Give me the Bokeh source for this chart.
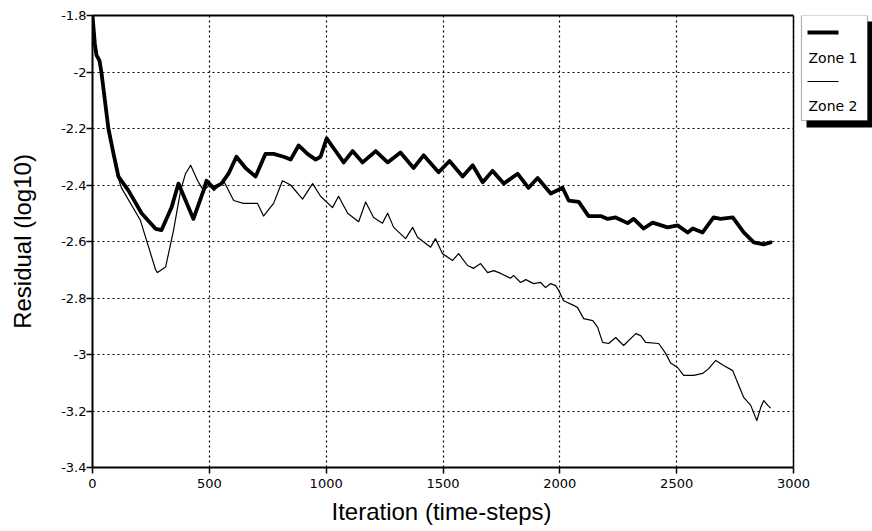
from bokeh.plotting import figure
from bokeh.models import (Range1d, FixedTicker, BoxAnnotation, Label,
                          LinearAxis, Span, Title)
from bokeh.embed import file_html
from bokeh.resources import INLINE

# ---- data ----
zone1_iter = [0, 10, 17, 30, 38, 68, 90, 111, 154, 210,
              270, 295, 338, 368, 411, 432, 475, 488, 518, 552,
              582, 616, 655, 698, 740, 775, 818, 848, 882, 920,
              955, 976, 1002, 1032, 1075, 1113, 1156, 1212, 1263, 1318,
              1374, 1417, 1481, 1528, 1584, 1627, 1670, 1712, 1760, 1819,
              1866, 1905, 1961, 2012, 2038, 2081, 2123, 2175, 2205, 2239,
              2290, 2316, 2359, 2397, 2461, 2504, 2547, 2569, 2611, 2658,
              2688, 2740, 2787, 2830, 2872, 2902]
zone1_val = [-1.80, -1.90, -1.94, -1.96, -2.00, -2.20, -2.29, -2.37, -2.42, -2.50,
             -2.555, -2.56, -2.48, -2.395, -2.48, -2.52, -2.42, -2.385, -2.41, -2.395,
             -2.36, -2.30, -2.34, -2.37, -2.29, -2.29, -2.30, -2.31, -2.26, -2.29,
             -2.31, -2.30, -2.235, -2.27, -2.32, -2.28, -2.32, -2.28, -2.32, -2.285,
             -2.34, -2.295, -2.355, -2.315, -2.37, -2.33, -2.39, -2.35, -2.395, -2.36,
             -2.41, -2.375, -2.43, -2.41, -2.455, -2.46, -2.51, -2.51, -2.52, -2.515,
             -2.535, -2.52, -2.554, -2.533, -2.55, -2.543, -2.568, -2.554, -2.568, -2.515,
             -2.52, -2.515, -2.568, -2.603, -2.61, -2.603]

zone2_iter = [0, 10, 30, 40, 68, 90, 108, 124, 205, 270,
              278, 313, 347, 377, 398, 420, 450, 475, 500, 520,
              561, 604, 646, 706, 732, 775, 813, 848, 899, 942,
              976, 1027, 1053, 1092, 1139, 1169, 1203, 1241, 1263, 1289,
              1340, 1370, 1391, 1447, 1468, 1498, 1541, 1567, 1605, 1631,
              1661, 1691, 1717, 1747, 1789, 1802, 1832, 1854, 1888, 1918,
              1939, 1961, 1982, 1995, 2016, 2059, 2076, 2102, 2141, 2162,
              2183, 2209, 2239, 2273, 2325, 2346, 2367, 2423, 2453, 2474,
              2504, 2530, 2573, 2611, 2637, 2667, 2701, 2740, 2761, 2787,
              2817, 2843, 2860, 2873, 2890, 2902]
zone2_val = [-1.80, -1.91, -1.97, -2.02, -2.21, -2.30, -2.37, -2.41, -2.525, -2.70,
             -2.71, -2.69, -2.56, -2.42, -2.36, -2.33, -2.385, -2.42, -2.40, -2.42,
             -2.385, -2.455, -2.465, -2.465, -2.51, -2.465, -2.385, -2.40, -2.45, -2.395,
             -2.44, -2.48, -2.44, -2.50, -2.53, -2.46, -2.515, -2.535, -2.50, -2.55,
             -2.59, -2.55, -2.585, -2.62, -2.59, -2.643, -2.667, -2.643, -2.685, -2.695,
             -2.678, -2.71, -2.703, -2.713, -2.73, -2.72, -2.745, -2.735, -2.749, -2.745,
             -2.763, -2.749, -2.756, -2.773, -2.81, -2.826, -2.834, -2.873, -2.88, -2.904,
             -2.957, -2.961, -2.94, -2.968, -2.926, -2.933, -2.957, -2.961, -2.996, -3.03,
             -3.046, -3.074, -3.074, -3.067, -3.05, -3.021, -3.039, -3.057, -3.10, -3.152,
             -3.18, -3.234, -3.187, -3.163, -3.18, -3.19]

x_ticks = [0, 500, 1000, 1500, 2000, 2500, 3000]
y_ticks = [-3.4, -3.2, -3.0, -2.8, -2.6, -2.4, -2.2, -2.0, -1.8]
y_tick_labels = ["-3.4", "-3.2", "-3", "-2.8", "-2.6", "-2.4", "-2.2", "-2", "-1.8"]
series_names = ["Zone 1", "Zone 2"]
x_title = "Iteration (time-steps)"
y_title = "Residual (log10)"

# ---- layout constants ----
W, H = 872, 531
FRAME_L, FRAME_T, FRAME_B = 92, 15, 467   # canvas px
AXIS_R = 793                               # canvas px where x = 3000 sits
x_lo, x_hi = x_ticks[0], x_ticks[-1]
y_lo, y_hi = y_ticks[0], y_ticks[-1]
# the frame runs to the canvas edge so the legend can sit beside the axes
x_frame_hi = x_lo + (x_hi - x_lo) * (W - FRAME_L) / (AXIS_R - FRAME_L)

p = figure(width=W, height=H, output_backend="svg", toolbar_location=None,
           x_range=Range1d(x_lo, x_frame_hi), y_range=Range1d(y_lo, y_hi),
           min_border_left=FRAME_L, min_border_top=FRAME_T, min_border_right=0,
           min_border_bottom=H - FRAME_B, background_fill_color="white",
           border_fill_color="white")
p.outline_line_color = None

p.line(zone1_iter, zone1_val, line_color="black", line_width=3.8,
       line_join="round", line_cap="round")
p.line(zone2_iter, zone2_val, line_color="black", line_width=1.2,
       line_join="round")

p.xaxis.ticker = FixedTicker(ticks=x_ticks)
p.yaxis.ticker = FixedTicker(ticks=y_ticks)
p.yaxis.major_label_overrides = {t: s for t, s in zip(y_ticks, y_tick_labels)}
p.xaxis.bounds = (x_lo, x_hi)

for ax in (p.xaxis, p.yaxis):
    ax.axis_line_color = "black"
    ax.axis_line_width = 2
    ax.major_tick_line_color = "black"
    ax.major_tick_line_width = 1.5
    ax.major_tick_out = 6
    ax.major_tick_in = 0
    ax.minor_tick_line_color = None
    ax.major_label_text_font = "DejaVu Sans"
    ax.major_label_text_font_size = "13px"
    ax.major_label_text_color = "black"
    ax.axis_label_text_font = "Liberation Sans"
    ax.axis_label_text_font_size = "24px"
    ax.axis_label_text_font_style = "normal"
    ax.axis_label_text_color = "black"

p.yaxis.axis_label = y_title
p.xaxis.major_label_standoff = 5
p.yaxis.major_label_standoff = 0
p.yaxis.axis_label_standoff = 22

# x title, centred under the 0..3000 span (not under the wider frame)
p.add_layout(Title(text=x_title, align="left", offset=239,
                   text_font="Liberation Sans", text_font_size="24px",
                   text_font_style="normal", text_color="black",
                   standoff=11), "below")

# top border of the plot box: an unlabeled axis limited to the data span
top = LinearAxis(bounds=(x_lo, x_hi), ticker=FixedTicker(ticks=[]),
                 axis_line_color="black", axis_line_width=2,
                 major_tick_out=0, major_tick_in=0, minor_tick_line_color=None,
                 major_label_text_font_size="0px", major_label_standoff=0)
p.add_layout(top, "above")
# right border of the plot box
p.add_layout(Span(location=x_hi, dimension="height", line_color="black",
                  line_width=1.5))

for g in (p.xgrid, p.ygrid):
    g.grid_line_color = "black"
    g.grid_line_dash = "2 3"
    g.grid_line_width = 1.2
    g.grid_line_alpha = 1.0
p.ygrid.cross_bounds = (x_lo, x_hi)

# ---- legend (boxed, beside the axes, with drop shadow) ----
def sbox(l, r, t, b, color, line_color=None):
    return BoxAnnotation(left=l, right=r, top=t, bottom=b,
                         left_units="screen", right_units="screen",
                         top_units="screen", bottom_units="screen",
                         fill_color=color, fill_alpha=1.0,
                         line_color=line_color, line_width=1.2)

p.add_layout(sbox(714, 780, 446, 340, "black"))
p.add_layout(sbox(709, 775, 452, 347, "white", "black"))
p.add_layout(sbox(715, 746, 437, 433, "black"))
p.add_layout(sbox(715, 746, 386.5, 385.5, "black"))
for name, ypos in zip(series_names, [410, 362]):
    p.add_layout(Label(x=716, y=ypos, x_units="screen", y_units="screen",
                       text=name, text_font="DejaVu Sans",
                       text_font_size="14px", text_color="black",
                       text_baseline="middle", text_align="left"))

open("out.html", "w").write(file_html(p, INLINE))
